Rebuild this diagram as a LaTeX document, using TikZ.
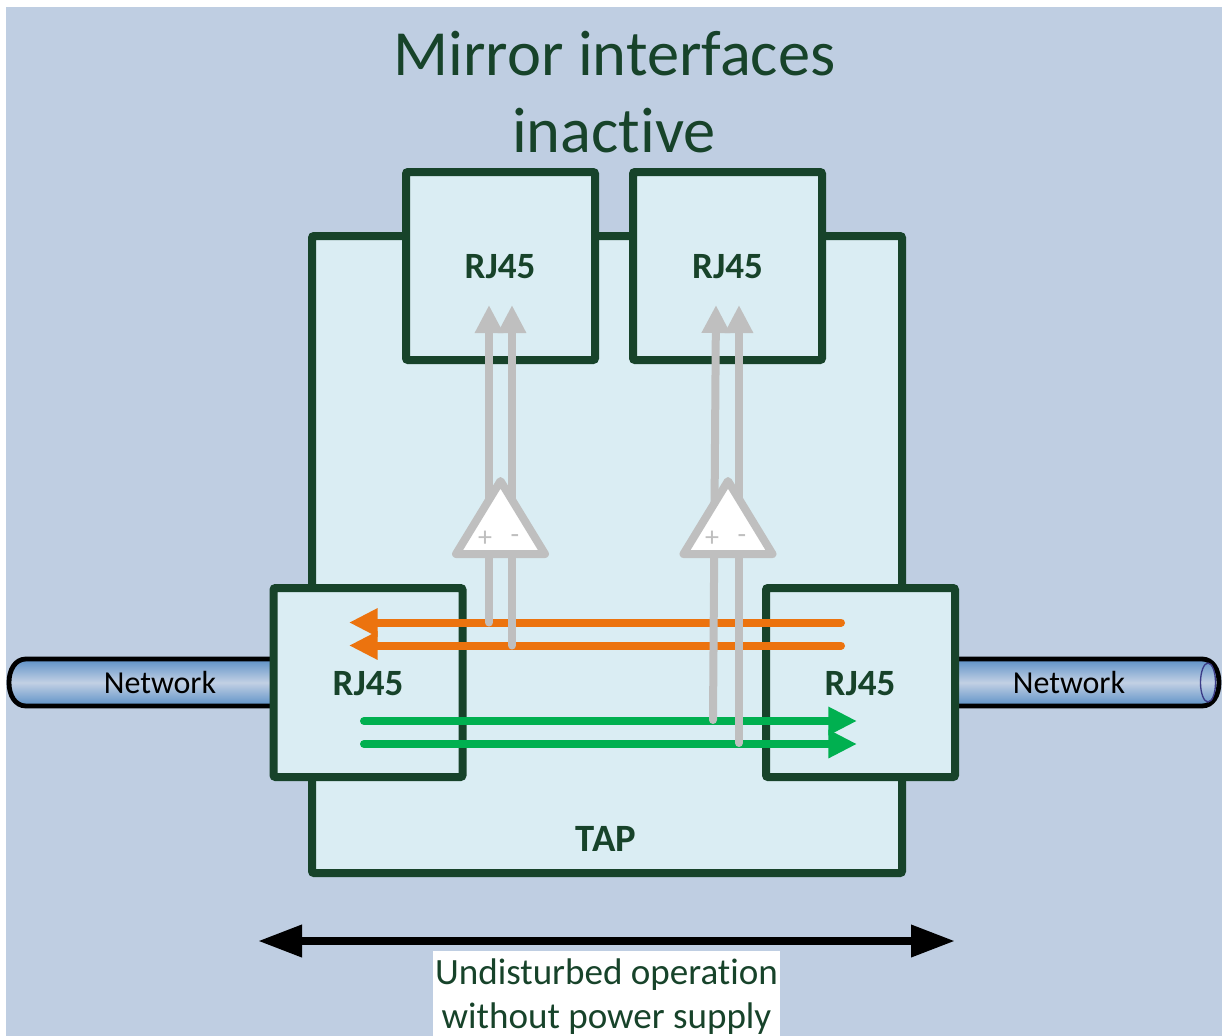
\documentclass[tikz,border=0pt]{standalone}
\usepackage{fontspec}
\setmainfont[Ligatures=NoCommon]{Carlito}
\usetikzlibrary{arrows.meta}
\definecolor{bgblue}{HTML}{BFCEE2}
\definecolor{boxfill}{HTML}{DAEDF3}
\definecolor{darkgreen}{HTML}{17432A}
\definecolor{sigorange}{HTML}{EC730E}
\definecolor{siggreen}{HTML}{00B050}
\definecolor{siggray}{HTML}{BFBFBF}
\definecolor{cableblue}{HTML}{5C90C6}
\definecolor{cablelight}{HTML}{C2D0E4}
\definecolor{cableend}{HTML}{3C3C88}
\tikzset{
  px/.style={x=0.75pt,y=-0.75pt},
  boxnode/.style={draw=darkgreen,fill=boxfill,line width=6pt,rounded corners=1.5pt,inner sep=0pt,outer sep=0pt},
  rjlabel/.style={text=darkgreen,font=\fontsize{27.8}{32}\selectfont\bfseries,inner sep=0pt},
  taplabel/.style={text=darkgreen,font=\fontsize{29}{32}\selectfont\bfseries,inner sep=0pt},
  titlelabel/.style={text=darkgreen,font=\fontsize{48.3}{48}\selectfont,inner sep=0pt},
  notelabel/.style={text=darkgreen,font=\fontsize{27.8}{33.6}\selectfont,inner sep=0pt},
  netlabel/.style={text=black,font=\fontsize{24}{28}\selectfont,inner sep=0pt},
  pmlabel/.style={text=siggray,font=\fontsize{21}{24}\selectfont,inner sep=0pt},
  sigline/.style={line width=6pt,line cap=round,-{Triangle[length=21.5pt,width=20pt]}},
  grayline/.style={sigline,draw=siggray,-{Triangle[length=21pt,width=20pt]}},
  ampshape/.style={draw=siggray,fill=white,line width=6pt,line join=round},
  cable/.style={top color=cableblue,bottom color=cableblue,middle color=cablelight},
  cableedge/.style={draw=black,line width=3.6pt},
  bigarrow/.style={draw=black,line width=6pt,{Triangle[length=33pt,width=23pt]}-{Triangle[length=33pt,width=23pt]}},
  notebox/.style={fill=white,inner sep=0pt,minimum width=260pt,minimum height=64pt,anchor=north}
}
\begin{document}
\begin{tikzpicture}[px]
\useasboundingbox (0,0) rectangle (1222,1036);
\fill[white] (0,0) rectangle (1222,1036);
\fill[bgblue] (6,7) rectangle (1222,1036);

% cables
\shade[cable] (273,659) -- (26,659) .. controls (15,659) and (9,670) .. (9,682.5) .. controls (9,695) and (15,706) .. (26,706) -- (273,706) -- cycle;
\draw[cableedge] (273,659) -- (26,659) .. controls (15,659) and (9,670) .. (9,682.5) .. controls (9,695) and (15,706) .. (26,706) -- (273,706);
\shade[cable] (955,659) -- (1202,659) .. controls (1213,659) and (1219,670) .. (1219,682.5) .. controls (1219,695) and (1213,706) .. (1202,706) -- (955,706) -- cycle;
\draw[cableedge] (955,659) -- (1202,659) .. controls (1213,659) and (1219,670) .. (1219,682.5) .. controls (1219,695) and (1213,706) .. (1202,706) -- (955,706);
\draw[draw=cableend,line width=1pt] (1208,682.5) ellipse [x radius=7.5,y radius=19.5];
\node[netlabel] (netL) at (160,682.5) {Network};
\node[netlabel] (netR) at (1069,682.5) {Network};

% boxes
\node[boxnode,minimum width=442.5pt,minimum height=477.75pt] (tap) at (607,554.5) {};
\node[boxnode,minimum width=141.75pt,minimum height=141pt] (topL) at (500.5,266) {};
\node[boxnode,minimum width=141.75pt,minimum height=141pt] (topR) at (727.5,266) {};
\node[boxnode,minimum width=141.75pt,minimum height=141.75pt] (midL) at (368,682.5) {};
\node[boxnode,minimum width=141.75pt,minimum height=141.75pt] (midR) at (860.5,682.5) {};

% labels
\node[rjlabel] (lblTL) at (500,267) {RJ45};
\node[rjlabel] (lblTR) at (727.5,267) {RJ45};
\node[rjlabel] (lblML) at (368,683.5) {RJ45};
\node[rjlabel] (lblMR) at (860,683.5) {RJ45};
\node[taplabel] (lblTap) at (606,838.5) {TAP};
\node[titlelabel] (title1) at (614.5,63) {\strut Mirror interfaces};
\node[titlelabel] (title2) at (614,140) {\strut inactive};

% signal end points
\coordinate (oA) at (841,622.5); \coordinate (oAt) at (349,622.5);
\coordinate (oB) at (841,645.5); \coordinate (oBt) at (349,645.5);
\coordinate (gA) at (364,721); \coordinate (gAt) at (857,721);
\coordinate (gB) at (364,744); \coordinate (gBt) at (857,744);
\coordinate (a1) at (489,622.5); \coordinate (a1t) at (489,305);
\coordinate (a2) at (512,645.5); \coordinate (a2t) at (512,305);
\coordinate (a3) at (713,720); \coordinate (a3t) at (716,305);
\coordinate (a4) at (739,743); \coordinate (a4t) at (739,305);

\draw[sigline,draw=sigorange,color=sigorange] (oA) -- (oAt);
\draw[sigline,draw=sigorange,color=sigorange] (oB) -- (oBt);
\draw[sigline,draw=siggreen,color=siggreen] (gA) -- (gAt);
\draw[sigline,draw=siggreen,color=siggreen] (gB) -- (gBt);
\draw[grayline,color=siggray] (a1) -- (a1t);
\draw[grayline,color=siggray] (a2) -- (a2t);
\draw[grayline,color=siggray] (a3) -- (a3t);
\draw[grayline,color=siggray] (a4) -- (a4t);

% amplifiers
\draw[ampshape] (500.5,481) -- (545,554) -- (456,554) -- cycle;
\draw[ampshape] (728,481) -- (772.5,554) -- (683.5,554) -- cycle;
\node[pmlabel] (p1) at (485,539) {+};
\node[pmlabel] (m1) at (515,539) {-};
\node[pmlabel] (p2) at (712,539) {+};
\node[pmlabel] (m2) at (742,539) {-};

% bottom
\coordinate (wL) at (258,941); \coordinate (wR) at (955,941);
\draw[bigarrow] (wL) -- (wR);
\node[notebox] (note) at (606.5,951) {};
\node[notelabel] (note1) at (606.5,975) {Undisturbed operation};
\node[notelabel] (note2) at (606.5,1018.5) {without power supply};
\end{tikzpicture}
\end{document}
